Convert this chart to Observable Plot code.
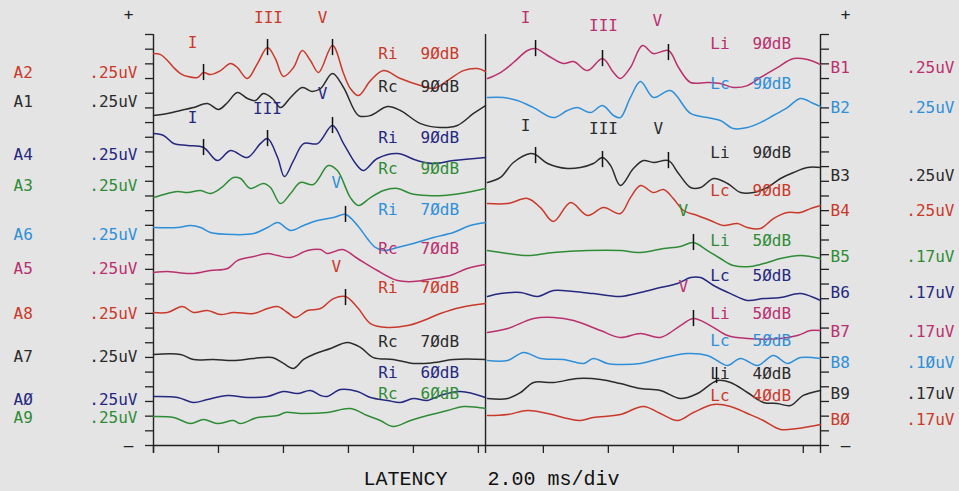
<!DOCTYPE html>
<html><head><meta charset="utf-8">
<script src="https://cdn.jsdelivr.net/npm/d3@7"></script>
<script src="https://cdn.jsdelivr.net/npm/@observablehq/plot@0.6"></script>
<style>
html,body{margin:0;padding:0;background:#e4e4e4;}
#chart svg{display:block;}
</style></head><body><div id="chart"></div>
<script>
// ---- axis data ----
const latencyTicks = [0, 2, 4, 6, 8, 10, 12, 14, 16, 18, 20]; // ms (2.00 ms/div)
const xEnd = 20.53;          // ms at right axis
const rightStart = 10.22;    // ms where the right-hand panel starts
const rowCount = 28;         // vertical divisions

// ---- channel labels ----
const leftNames  = ["A2","A1","A4","A3","A6","A5","A8","A7","AØ","A9"];
const leftGains  = [".25uV",".25uV",".25uV",".25uV",".25uV",".25uV",".25uV",".25uV",".25uV",".25uV"];
const leftLevels = [25.41,23.43,19.82,17.71,14.37,12.06,8.99,6.06,3.13,1.91];
const rightNames  = ["B1","B2","B3","B4","B5","B6","B7","B8","B9","BØ"];
const rightGains  = [".25uV",".25uV",".25uV",".25uV",".17uV",".17uV",".17uV",".1ØuV",".17uV",".17uV"];
const rightLevels = [25.75,23.02,18.39,16.01,12.87,10.42,7.77,5.65,3.54,1.77];

// ---- stimulus annotations: [channel, side, level, row] ----
const leftConditions = [["A2","Ri","9ØdB",26.7],["A1","Rc","9ØdB",24.46],["A4","Ri","9ØdB",20.98],["A3","Rc","9ØdB",18.87],["A6","Ri","7ØdB",16.07],["A5","Rc","7ØdB",13.42],["A8","Ri","7ØdB",10.76],["A7","Rc","7ØdB",7.08],["AØ","Ri","6ØdB",4.92],["A9","Rc","6ØdB",3.5]];
const rightConditions = [["B1","Li","9ØdB",27.38],["B2","Lc","9ØdB",24.66],["B3","Li","9ØdB",19.96],["B4","Lc","9ØdB",17.37],["B5","Li","5ØdB",13.96],["B6","Lc","5ØdB",11.58],["B7","Li","5ØdB",8.99],["B8","Lc","5ØdB",7.15],["B9","Li","4ØdB",4.9],["BØ","Lc","4ØdB",3.41]];

// ---- wave labels: [channel, label, latency ms, row] ----
const waveLabels = [
 ["A2","I",1.2,27.45],["A2","III",3.54,29.16],["A2","V",5.2,29.16],
 ["A4","I",1.2,22.34],["A4","III",3.51,22.96],["A4","V",5.2,23.98],
 ["A6","V",5.63,17.92],["A8","V",5.63,12.19],
 ["B1","I",1.23,29.16],["B1","III",3.63,28.6],["B1","V",5.29,28.95],
 ["B3","I",1.23,21.8],["B3","III",3.63,21.59],["B3","V",5.32,21.59],
 ["B5","V",6.09,16.01],["B7","V",6.09,10.83]
];
// ---- peak markers: [channel, latency ms, row] ----
const peakMarks = [
 ["A2",1.54,25.41],["A2",3.51,27.11],["A2",5.51,27.11],
 ["A4",1.54,20.3],["A4",3.51,20.91],["A4",5.51,21.8],
 ["A6",5.91,15.74],["A8",5.91,10.08],
 ["B1",1.54,27.04],["B1",3.6,26.36],["B1",5.63,26.77],
 ["B3",1.54,19.75],["B3",3.6,19.48],["B3",5.63,19.41],
 ["B5",6.4,13.83],["B7",6.4,8.65],["B9",7.11,4.77]
];

// ---- waveforms: [latency ms, row] ----
const traceA2 = [[0,26.7],[0.22,26.63],[0.43,26.23],[0.62,25.75],[0.83,25.34],[1.05,25.14],[1.35,25.07],[1.54,25.41],[1.75,25.27],[2.06,25.54],[2.37,26.02],[2.58,25.75],[2.89,25.0],[3.2,26.02],[3.51,27.11],[3.75,26.36],[4.0,25.14],[4.31,25.75],[4.58,26.91],[4.83,26.23],[5.08,25.41],[5.51,27.25],[5.85,25.34],[6.06,24.32],[6.31,23.84],[6.68,24.86],[7.08,25.54],[7.6,25.0],[8.22,24.52],[8.62,24.32],[9.05,24.86],[9.54,25.54],[9.97,25.68],[10.22,25.48]];
const traceA1 = [[0,22.48],[0.43,22.62],[0.83,22.82],[1.23,23.02],[1.66,23.3],[2.0,22.89],[2.28,23.37],[2.58,24.05],[2.89,23.64],[3.14,23.5],[3.38,23.98],[3.66,23.64],[3.91,23.02],[4.22,23.71],[4.58,24.39],[4.89,24.11],[5.14,24.32],[5.51,25.34],[5.85,24.39],[6.31,22.48],[6.68,22.48],[7.2,23.09],[7.6,22.82],[8.22,21.93],[8.83,21.66],[9.35,21.8],[9.85,22.62],[10.22,23.16]];
const traceA4 = [[0,21.25],[0.31,21.12],[0.62,20.57],[1.05,20.44],[1.54,20.3],[1.97,19.41],[2.37,20.1],[2.89,19.62],[3.29,20.57],[3.51,20.91],[3.82,19.62],[4.03,18.32],[4.31,19.41],[4.62,20.57],[5.05,20.57],[5.51,21.8],[5.85,20.57],[6.22,19.21],[6.46,18.73],[6.89,19.55],[7.51,19.89],[8.12,19.41],[8.62,19.21],[9.23,19.41],[10.22,19.62]];
const traceA3 = [[0,16.89],[0.43,17.17],[0.74,17.3],[1.05,17.23],[1.45,17.37],[1.75,17.17],[2.06,17.51],[2.46,18.26],[2.68,18.19],[2.98,17.51],[3.38,17.85],[3.6,17.58],[3.91,16.48],[4.22,17.17],[4.52,17.92],[4.92,17.78],[5.38,19.07],[5.66,18.73],[6.06,16.89],[6.31,16.35],[6.68,16.89],[7.08,17.37],[7.51,17.51],[7.91,17.17],[8.43,17.03],[8.92,17.03],[9.45,17.17],[10.22,17.51]];
const traceA6 = [[0,14.85],[0.74,14.85],[1.14,14.99],[1.45,14.85],[1.75,14.51],[2.46,14.37],[3.08,14.44],[3.51,14.85],[3.82,15.19],[4.22,14.65],[4.62,14.99],[5.05,15.33],[5.54,15.53],[5.91,15.74],[6.28,14.99],[6.58,14.1],[6.83,13.49],[7.08,13.28],[7.51,13.49],[8.0,13.76],[8.62,14.17],[9.23,14.51],[9.75,14.99],[10.22,15.19]];
const traceA5 = [[0,11.78],[0.43,11.85],[0.74,11.78],[1.23,11.72],[1.75,11.92],[2.28,12.06],[2.58,12.6],[3.08,12.87],[3.51,13.08],[3.82,12.94],[4.22,12.81],[4.74,13.28],[5.14,13.35],[5.35,13.08],[5.82,13.35],[6.28,12.74],[6.89,11.92],[7.51,11.24],[8.0,11.17],[8.62,11.38],[9.14,11.58],[9.66,12.06],[10.22,12.33]];
const traceA8 = [[0,9.06],[0.43,9.06],[0.89,9.47],[1.23,9.06],[1.66,9.2],[2.06,8.92],[2.46,9.06],[3.08,8.99],[3.51,9.33],[3.82,9.47],[4.12,9.06],[4.37,8.72],[4.74,9.2],[5.14,9.33],[5.54,10.01],[5.91,10.15],[6.28,9.4],[6.68,8.31],[7.2,8.04],[7.82,8.17],[8.31,8.52],[8.83,8.99],[9.45,9.4],[10.22,9.67]];
const traceA7 = [[0,6.2],[0.83,6.2],[1.23,5.86],[1.85,5.86],[2.46,5.79],[3.08,5.93],[3.66,5.99],[4.0,5.59],[4.31,5.25],[4.62,5.86],[4.92,6.2],[5.45,6.61],[5.97,7.02],[6.37,6.68],[6.77,5.99],[7.38,5.86],[8.0,5.59],[8.62,5.65],[9.23,5.86],[10.22,5.86]];
const traceA0 = [[0,3.34],[0.74,3.27],[1.23,2.93],[1.66,3.13],[2.28,3.41],[2.89,3.27],[3.51,3.34],[4.0,3.68],[4.43,3.54],[4.83,3.75],[5.14,3.41],[5.35,3.34],[5.75,3.81],[6.28,3.68],[6.68,3.27],[7.2,3.07],[7.6,2.93],[8.0,3.2],[8.43,3.07],[8.83,3.41],[9.45,3.68],[10.22,3.27]];
const traceA9 = [[0,1.98],[0.62,1.91],[1.14,1.5],[1.54,1.77],[1.97,1.5],[2.46,1.7],[2.68,1.5],[3.2,1.91],[3.82,2.04],[4.06,2.25],[4.52,2.18],[5.35,2.25],[6.06,2.52],[6.58,2.04],[6.98,1.7],[7.38,1.29],[7.91,1.7],[8.43,2.04],[9.05,2.38],[9.54,2.66],[10.22,2.52]];
const traceB1 = [[0.06,25.0],[0.46,25.41],[0.86,26.09],[1.29,26.91],[1.54,27.04],[1.91,26.57],[2.4,26.02],[2.71,26.16],[3.14,25.54],[3.6,26.36],[3.94,25.41],[4.15,25.0],[4.46,25.75],[4.83,27.25],[5.17,26.7],[5.63,26.91],[5.94,25.75],[6.31,24.73],[6.83,24.73],[7.23,24.66],[7.63,24.39],[8.06,24.52],[8.46,25.07],[8.98,25.75],[9.48,26.36],[9.91,26.29],[10.31,25.95]];
const traceB2 = [[0.06,23.71],[0.55,23.71],[0.98,23.5],[1.48,23.02],[2.09,22.34],[2.52,22.82],[2.83,23.02],[3.23,22.68],[3.6,23.16],[3.94,22.48],[4.15,22.34],[4.46,23.71],[4.77,24.8],[5.17,23.71],[5.69,24.18],[6.31,22.62],[6.83,22.34],[7.23,22.14],[7.63,21.59],[8.06,21.66],[8.46,22.0],[8.86,22.48],[9.29,23.02],[9.69,23.64],[10.09,23.3],[10.31,23.09]];
const traceB3 = [[0.06,17.92],[0.46,18.26],[0.86,19.28],[1.38,19.89],[1.54,19.82],[1.91,19.21],[2.52,18.87],[2.92,18.94],[3.32,19.21],[3.6,19.62],[3.85,19.07],[4.15,17.71],[4.55,18.87],[4.86,19.41],[5.17,19.28],[5.63,19.41],[5.94,18.53],[6.31,17.58],[6.62,17.58],[7.02,18.19],[7.45,17.85],[7.85,17.23],[8.25,17.23],[8.68,17.58],[9.08,18.19],[9.48,18.6],[9.91,18.94],[10.31,18.94]];
const traceB4 = [[0.06,16.48],[0.68,16.48],[1.29,16.83],[1.69,16.21],[2.09,15.26],[2.62,16.55],[3.14,15.67],[3.63,16.21],[4.15,15.8],[4.46,16.89],[4.77,17.71],[5.17,17.23],[5.48,17.44],[5.78,16.83],[6.09,16.01],[6.52,15.67],[6.92,15.33],[7.32,14.99],[7.75,15.12],[8.06,14.85],[8.46,14.78],[8.86,15.46],[9.29,15.87],[9.69,15.87],[10.0,16.14],[10.31,16.35]];
const traceB5 = [[0.06,13.28],[0.68,13.08],[1.29,12.94],[2.09,13.15],[3.14,13.28],[4.15,13.28],[4.68,13.15],[5.17,13.28],[5.48,13.42],[6.0,13.56],[6.4,13.83],[6.83,13.28],[7.23,12.74],[7.63,12.26],[8.15,12.19],[8.68,12.47],[9.08,12.74],[9.69,12.94],[10.31,12.74]];
const traceB6 = [[0.06,10.15],[0.46,10.35],[1.08,10.42],[1.6,10.15],[2.09,10.56],[2.71,10.49],[3.32,10.35],[4.15,10.15],[4.77,10.42],[5.38,10.76],[5.91,11.04],[6.31,11.44],[6.62,11.44],[7.02,10.9],[7.54,10.35],[8.06,9.88],[8.55,10.01],[9.08,10.08],[9.69,10.35],[10.31,9.88]];
const traceB7 = [[0.06,7.7],[0.68,7.97],[1.48,8.65],[2.09,8.72],[2.71,8.52],[3.54,7.83],[4.15,7.36],[4.77,7.63],[5.38,7.36],[6.0,8.17],[6.4,8.65],[6.92,8.17],[7.45,7.49],[8.06,7.29],[9.08,7.29],[9.6,7.49],[10.0,7.83],[10.31,7.83]];
const traceB8 = [[0.06,5.79],[0.68,5.79],[1.17,6.34],[1.69,5.93],[2.4,5.86],[3.02,5.59],[3.32,5.93],[3.75,5.59],[4.15,5.52],[4.77,5.59],[5.38,5.93],[6.22,6.27],[6.83,6.13],[7.23,5.65],[7.45,5.45],[7.85,5.93],[8.37,5.45],[8.86,6.13],[9.29,5.59],[9.69,5.99],[10.31,5.93]];
const traceB9 = [[0.06,3.2],[0.68,3.2],[1.08,3.61],[1.48,4.29],[2.09,4.29],[2.83,4.56],[3.54,4.5],[4.15,4.22],[4.77,3.88],[5.38,3.75],[6.0,3.2],[6.52,3.54],[7.14,4.43],[7.54,4.29],[8.06,3.61],[8.55,2.93],[8.98,2.86],[9.38,2.72],[9.78,3.41],[10.31,3.75]];
const traceB0 = [[0.06,2.04],[0.68,2.11],[1.29,2.38],[1.91,2.18],[2.52,1.84],[2.92,1.7],[3.32,1.91],[4.15,2.11],[4.86,2.66],[5.38,2.18],[5.91,1.7],[6.4,2.25],[7.02,2.79],[7.54,2.66],[8.06,2.18],[8.55,1.7],[9.08,1.09],[9.6,1.16],[10.31,1.43]];

// ---- styles ----
const C = {red:"#c9392a", black:"#2b2b2b", navy:"#25287f", green:"#2f8c36", blue:"#2e8fd8", magenta:"#b9306f"};
const palette = {A2:C.red,A1:C.black,A4:C.navy,A3:C.green,A6:C.blue,A5:C.magenta,A8:C.red,A7:C.black,"AØ":C.navy,A9:C.green,
  B1:C.magenta,B2:C.blue,B3:C.black,B4:C.red,B5:C.green,B6:C.navy,B7:C.magenta,B8:C.blue,B9:C.black,"BØ":C.red};
const font = "DejaVu Sans Mono";
const axisColor = "#222";

const leftTraces = [traceA2,traceA1,traceA4,traceA3,traceA6,traceA5,traceA8,traceA7,traceA0,traceA9];
const rightTraces = [traceB1,traceB2,traceB3,traceB4,traceB5,traceB6,traceB7,traceB8,traceB9,traceB0];
const offsetOf = ch => ch[0] === "B" ? rightStart : 0;

const rows = [];
leftNames.forEach((ch,i) => leftTraces[i].forEach(([t,v]) => rows.push({ch, x: t, y: v})));
rightNames.forEach((ch,i) => rightTraces[i].forEach(([t,v]) => rows.push({ch, x: t + rightStart, y: v})));

const conds = leftConditions.concat(rightConditions).map(([ch,side,lvl,row]) => ({ch, side, lvl, row, x0: offsetOf(ch)}));
const waves = waveLabels.map(([ch,label,t,row]) => ({ch,label,x: t + offsetOf(ch), y: row}));
const peaks = peakMarks.map(([ch,t,row]) => ({ch, x: t + offsetOf(ch), y: row}));
const leftLab = leftNames.map((ch,i) => ({ch, gain: leftGains[i], y: leftLevels[i]}));
const rightLab = rightNames.map((ch,i) => ({ch, gain: rightGains[i], y: rightLevels[i]}));

const txt = {fontFamily: font, fontSize: 16};

const plot = Plot.plot({
  width: 959, height: 491,
  marginLeft: 153, marginRight: 139, marginTop: 34, marginBottom: 46,
  x: {domain: [0, xEnd], label: null},
  y: {domain: [0, rowCount], label: null},
  style: {background: "transparent", color: axisColor, fontFamily: font},
  marks: [
    Plot.axisY({ticks: d3.range(0, rowCount + 1), tickSize: 8, tickFormat: () => "", anchor: "left", label: null, strokeWidth: 1.3}),
    Plot.axisY({ticks: d3.range(0, rowCount + 1), tickSize: 8, tickFormat: () => "", anchor: "right", label: null, strokeWidth: 1.3}),
    Plot.axisX({ticks: latencyTicks, tickSize: 8, tickFormat: () => "", anchor: "bottom", label: null, strokeWidth: 1.3}),
    Plot.ruleX([0, rightStart, xEnd], {y1: -0.55, y2: rowCount, stroke: axisColor, strokeWidth: 1.4}),
    Plot.ruleY([0], {stroke: axisColor, strokeWidth: 1.4}),
    Plot.line(rows, {x: "x", y: "y", z: "ch", stroke: d => palette[d.ch], curve: "catmull-rom", strokeWidth: 1.5}),
    Plot.ruleX(peaks, {x: "x", y1: d => d.y - 0.55, y2: d => d.y + 0.55, stroke: "#111", strokeWidth: 1.5}),
    Plot.text(waves, {x: "x", y: "y", text: "label", fill: d => palette[d.ch], ...txt}),
    Plot.text(conds, {x: d => d.x0 + 6.92, y: "row", text: "side", textAnchor: "start", fill: d => palette[d.ch], ...txt}),
    Plot.text(conds, {x: d => d.x0 + 8.22, y: "row", text: "lvl", textAnchor: "start", fill: d => palette[d.ch], ...txt}),
    Plot.text(leftLab, {x: 0, y: "y", text: "ch", dx: -140, textAnchor: "start", fill: d => palette[d.ch], ...txt}),
    Plot.text(leftLab, {x: 0, y: "y", text: "gain", dx: -16, textAnchor: "end", fill: d => palette[d.ch], ...txt}),
    Plot.text(rightLab, {x: xEnd, y: "y", text: "ch", dx: 10, textAnchor: "start", fill: d => palette[d.ch], ...txt}),
    Plot.text(rightLab, {x: xEnd, y: "y", text: "gain", dx: 134, textAnchor: "end", fill: d => palette[d.ch], ...txt}),
    Plot.text(["+"], {x: 0, y: rowCount + 1.36, dx: -25, text: d => d, fill: axisColor, ...txt}),
    Plot.text(["+"], {x: xEnd, y: rowCount + 1.36, dx: 25, text: d => d, fill: axisColor, ...txt}),
    Plot.text(["\u2013"], {x: 0, y: 0, dx: -25, text: d => d, fill: axisColor, ...txt}),
    Plot.text(["\u2013"], {x: xEnd, y: 0, dx: 25, text: d => d, fill: axisColor, ...txt}),
    Plot.text(["LATENCY"], {x: 6.46, y: -2.25, text: d => d, textAnchor: "start", fill: "#111", fontFamily: "Liberation Mono", fontSize: 20}),
    Plot.text(["2.00 ms/div"], {x: 10.28, y: -2.25, text: d => d, textAnchor: "start", fill: "#111", fontFamily: "Liberation Mono", fontSize: 20})
  ]
});
document.getElementById("chart").appendChild(plot);
</script></body></html>
